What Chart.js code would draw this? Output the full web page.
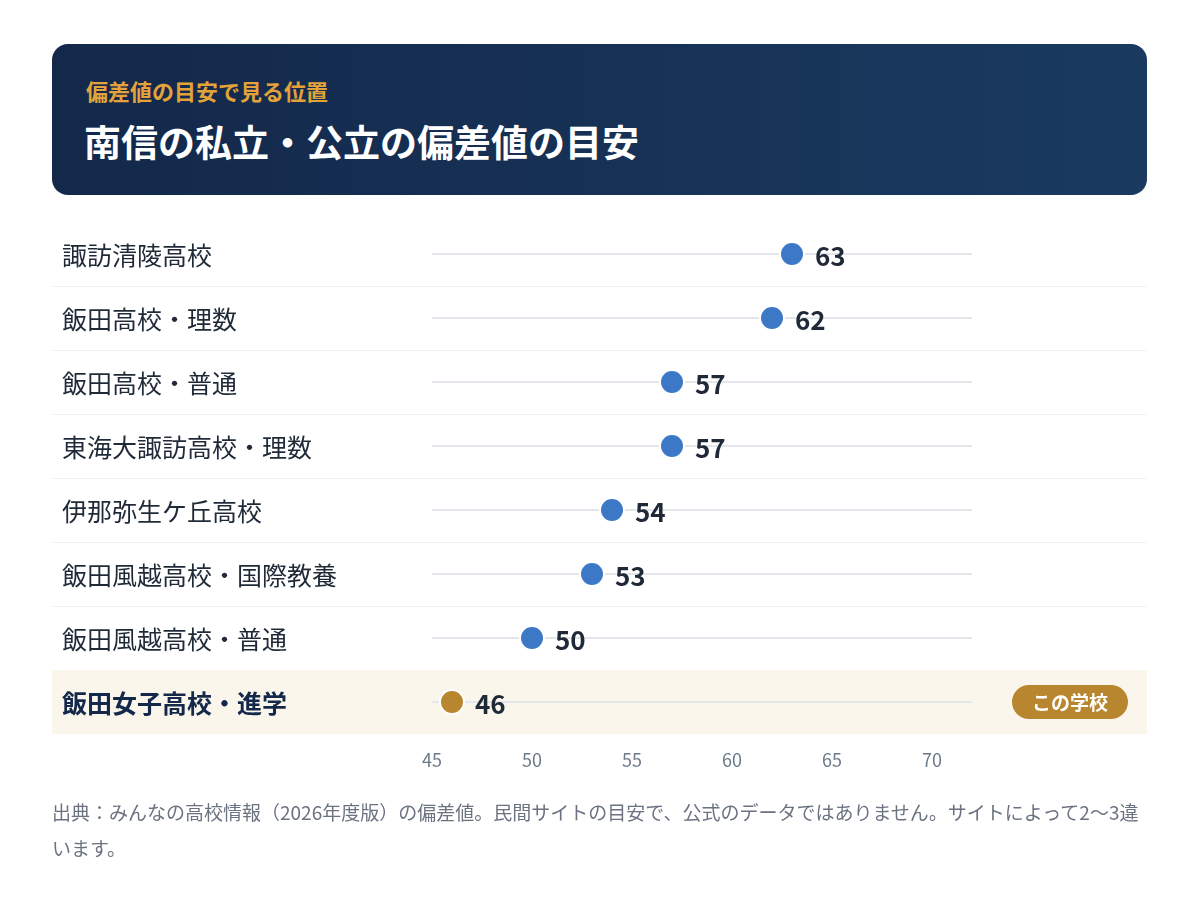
<!DOCTYPE html>
<html lang="ja">
<head>
<meta charset="utf-8">
<script src="https://cdn.jsdelivr.net/npm/chart.js@4"></script>
<style>
  body { margin: 0; background: #fff; font-family: "Noto Sans CJK JP", "Noto Sans", sans-serif; }
  #wrap { position: relative; width: 1200px; height: 900px; }
  #head { position: absolute; left: 52px; top: 44px; width: 1095px; height: 151px; border-radius: 16px;
          background: linear-gradient(90deg, #13284a, #1a3a60); }
  #sub { position: absolute; left: 34px; top: 30px; color: #e3a33a; font-size: 22px; font-weight: 700; }
  #title { position: absolute; left: 32px; top: 70px; color: #fff; font-size: 37px; font-weight: 700; }
  #note { position: absolute; left: 52px; top: 794px; width: 1100px; color: #6b7280; font-size: 19px; line-height: 36px; }
  canvas { position: absolute; left: 0; top: 0; }
</style>
</head>
<body>
<div id="wrap">
  <canvas id="c" width="1200" height="900"></canvas>
  <div id="head">
    <div id="sub">偏差値の目安で見る位置</div>
    <div id="title">南信の私立・公立の偏差値の目安</div>
  </div>
  <div id="note">出典：みんなの高校情報（2026年度版）の偏差値。民間サイトの目安で、公式のデータではありません。サイトによって2〜3違います。</div>
</div>
<script>
const schools = ["諏訪清陵高校", "飯田高校・理数", "飯田高校・普通", "東海大諏訪高校・理数", "伊那弥生ケ丘高校", "飯田風越高校・国際教養", "飯田風越高校・普通", "飯田女子高校・進学"];
const scores = [63, 62, 57, 57, 54, 53, 50, 46];
const highlight = "飯田女子高校・進学";
const xTicks = [45, 50, 55, 60, 65, 70];

const blue = "#3d78c6", gold = "#b8862e";
const font = '"Noto Sans CJK JP", "Noto Sans", sans-serif';

// 行の背景・ラベル・値・目盛りを描く
const rowsPlugin = {
  id: "rows",
  beforeDatasetsDraw(chart) {
    const ctx = chart.ctx, x = chart.scales.x, y = chart.scales.y;
    const step = y.getPixelForValue(1) - y.getPixelForValue(0);
    ctx.save();
    schools.forEach((s, i) => {
      const cy = y.getPixelForValue(i);
      const top = cy - step / 2, bot = cy + step / 2;
      if (s === highlight) {
        ctx.fillStyle = "#faf6ec";
        ctx.fillRect(52, top, 1095, step);
      } else {
        ctx.strokeStyle = "#eef0f3"; ctx.lineWidth = 1;
        ctx.beginPath(); ctx.moveTo(52, bot + 0.5); ctx.lineTo(1147, bot + 0.5); ctx.stroke();
      }
      ctx.strokeStyle = "#e3e6ea"; ctx.lineWidth = 2;
      ctx.beginPath(); ctx.moveTo(x.left, cy); ctx.lineTo(x.right, cy); ctx.stroke();
      ctx.fillStyle = s === highlight ? "#13284a" : "#1f2937";
      ctx.font = (s === highlight ? "700 " : "400 ") + "25px " + font;
      ctx.textAlign = "left"; ctx.textBaseline = "middle";
      ctx.fillText(s, 62, cy + 1);
    });
    ctx.fillStyle = "#6b7a8c"; ctx.font = "18px " + font; ctx.textAlign = "center";
    xTicks.forEach(t => ctx.fillText(t, x.getPixelForValue(t), 760));
    ctx.restore();
  },
  afterDatasetsDraw(chart) {
    const ctx = chart.ctx, x = chart.scales.x, y = chart.scales.y;
    ctx.save();
    ctx.textBaseline = "middle";
    schools.forEach((s, i) => {
      const cy = y.getPixelForValue(i);
      ctx.fillStyle = "#1f2937"; ctx.font = "700 26px " + font; ctx.textAlign = "left";
      ctx.fillText(scores[i], x.getPixelForValue(scores[i]) + 23, cy + 2);
      if (s === highlight) {
        ctx.fillStyle = gold;
        ctx.beginPath(); ctx.roundRect(1012, cy - 17, 116, 34, 17); ctx.fill();
        ctx.fillStyle = "#fff"; ctx.font = "700 19px " + font; ctx.textAlign = "center";
        ctx.fillText("この学校", 1070, cy + 1);
      }
    });
    ctx.restore();
  }
};

new Chart(document.getElementById("c"), {
  type: "scatter",
  data: {
    datasets: [{
      data: schools.map((s, i) => ({ x: scores[i], y: s })),
      pointRadius: 12,
      pointBorderWidth: 2,
      pointBorderColor: "#fff",
      pointBackgroundColor: schools.map(s => s === highlight ? gold : blue)
    }]
  },
  options: {
    responsive: false,
    animation: false,
    layout: { padding: { left: 432, right: 228, top: 222, bottom: 166 } },
    plugins: { legend: { display: false }, tooltip: { enabled: false } },
    scales: {
      x: { type: "linear", min: 45, max: 72, display: false },
      y: { type: "category", labels: schools, offset: true, display: false }
    }
  },
  plugins: [rowsPlugin]
});
</script>
</body>
</html>
